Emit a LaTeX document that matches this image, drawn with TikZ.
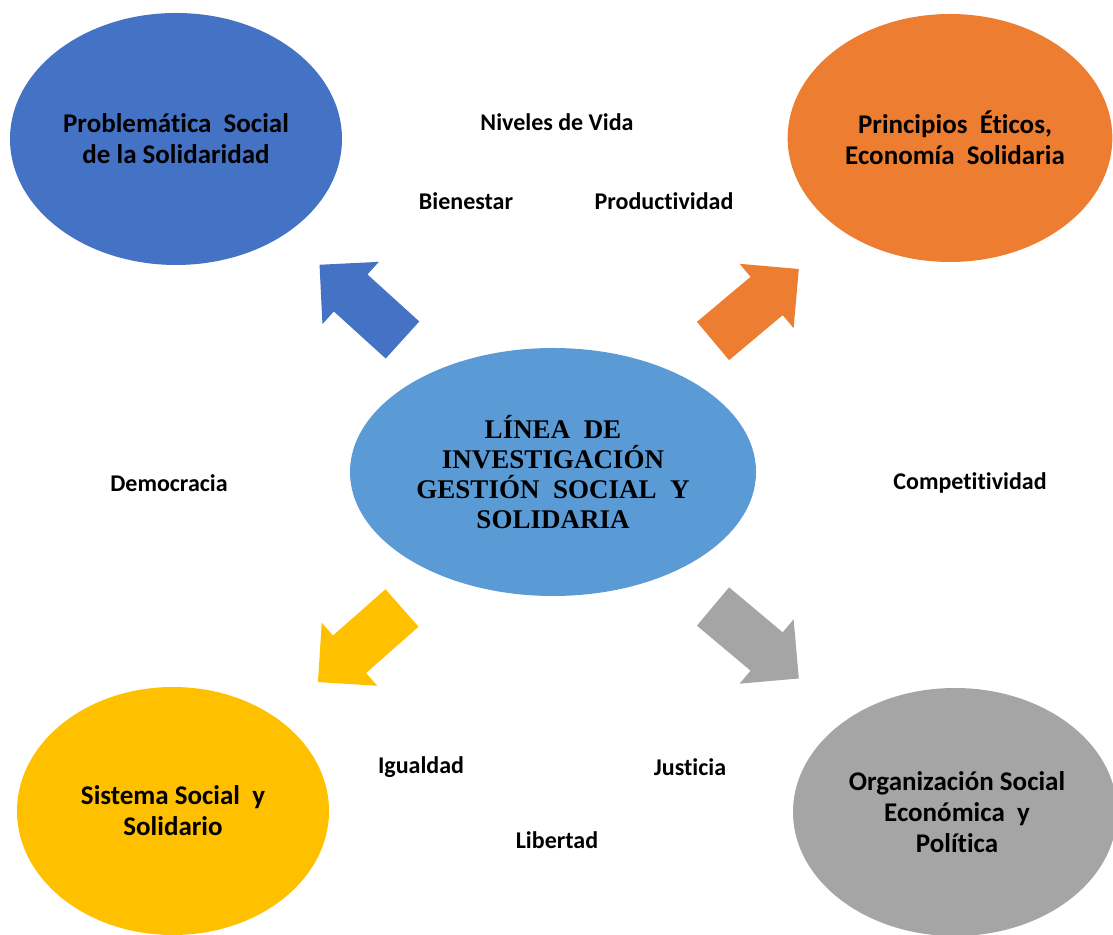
\documentclass[tikz,border=0pt]{standalone}
\usepackage{fontspec}
\setmainfont{Carlito}[Ligatures=NoCommon]
\newfontfamily\titlefont{Liberation Serif}
\usetikzlibrary{shapes.geometric}
\definecolor{cblue}{HTML}{4472C4}
\definecolor{corange}{HTML}{ED7D31}
\definecolor{cyellow}{HTML}{FFC000}
\definecolor{cgrey}{HTML}{A5A5A5}
\definecolor{ccenter}{HTML}{5B9BD5}
\tikzset{
  bubble/.style={ellipse, inner sep=0pt, align=center, draw=none,
    font=\fontsize{27}{31}\selectfont\bfseries},
  lbl/.style={inner sep=0pt, font=\fontsize{24}{28}\selectfont\bfseries},
  blockarrow/.pic={\fill[pic actions] (0,-25) -- (70,-25) -- (70,-42) -- (112,0) -- (70,42) -- (70,25) -- (0,25) -- cycle;}
}
\begin{document}
\begin{tikzpicture}[x=1pt,y=1pt]
\useasboundingbox (0,0) rectangle (1113,934);
\clip (0,0) rectangle (1113,934);

% arrows
\pic[fill=cblue, rotate=137.8] at (402.5,594) {blockarrow};
\pic[fill=corange, rotate=40] at (713,593) {blockarrow};
\pic[fill=cyellow, rotate=221.4] at (402,326) {blockarrow};
\pic[fill=cgrey, rotate=-40] at (713,327.5) {blockarrow};

% ellipses
\node[bubble, fill=cblue, minimum width=332, minimum height=252] (prob) at (176,795)
  {Problemática\ \ Social\\de la Solidaridad};
\node[bubble, fill=corange, minimum width=324, minimum height=248] (prin) at (950,796)
  {\hspace*{10pt}Principios\ \ Éticos,\\\hspace*{10pt}Economía\ \ Solidaria};
\node[bubble, fill=cyellow, minimum width=312, minimum height=248] (sist) at (173,123)
  {Sistema Social\ \ y\\Solidario};
\node[bubble, fill=cgrey, minimum width=324, minimum height=248] (org) at (955,122)
  {\hspace*{4pt}Organización Social\\\hspace*{4pt}Económica\ \ y\\\hspace*{4pt}Política};
\node[ellipse, inner sep=0pt, fill=ccenter, minimum width=406, minimum height=248, align=center,
  font=\titlefont\fontsize{27}{30}\selectfont\bfseries] (linea) at (553,462)
  {LÍNEA\ \ DE\\INVESTIGACIÓN\\GESTIÓN\ \ SOCIAL\ \ Y\\SOLIDARIA};

% labels
\node[lbl] (niveles) at (557,812) {Niveles de Vida};
\node[lbl] (bien) at (466,733) {Bienestar};
\node[lbl] (prod) at (664,733) {Productividad};
\node[lbl] (demo) at (169,451) {Democracia};
\node[lbl] (comp) at (970,451) {Competitividad};
\node[lbl] (igual) at (421,167) {Igualdad};
\node[lbl] (just) at (690,167) {Justicia};
\node[lbl] (lib) at (557,94) {Libertad};
\end{tikzpicture}
\end{document}
